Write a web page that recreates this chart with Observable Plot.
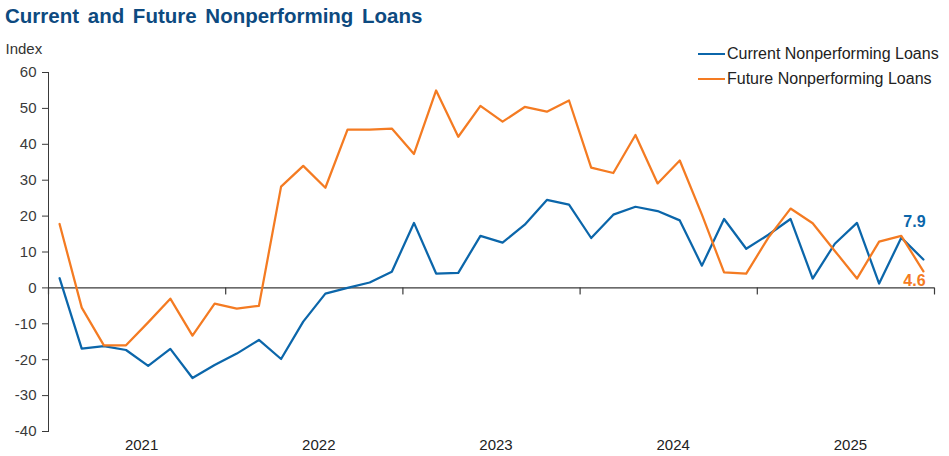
<!DOCTYPE html>
<html><head><meta charset="utf-8">
<script src="https://cdn.jsdelivr.net/npm/d3@7"></script>
<script src="https://cdn.jsdelivr.net/npm/@observablehq/plot@0.6"></script>
<style>
body{margin:0;background:#fff;font-family:"Liberation Sans",Arial,sans-serif;}
#wrap{position:relative;width:949px;height:456px;overflow:hidden;}
#title{position:absolute;left:5px;top:4px;font-weight:bold;font-size:20.5px;color:#0d4a80;word-spacing:3px;white-space:nowrap;}
#chart{position:absolute;left:0;top:40px;}
#legend{position:absolute;left:698px;top:41.5px;font-size:16px;color:#222;}
#legend .item{display:flex;align-items:center;height:25px;white-space:nowrap;}
#legend .sw{display:inline-block;width:27px;height:2.2px;margin-right:2px;}
</style></head>
<body>
<div id="wrap">
  <div id="title">Current and Future Nonperforming Loans</div>
  <div id="chart"></div>
  <div id="legend"></div>
</div>
<script>
// Survey waves: 8 per year
const years = ["2021", "2022", "2023", "2024", "2025"];
const wavesPerYear = 8;

const seriesNames = ["Current Nonperforming Loans", "Future Nonperforming Loans"];
const seriesColors = ["#0b66aa", "#f47b22"];

const currentNPL = [2.7, -16.9, -16.2, -17.3, -21.7, -17.0, -25.1, -21.5, -18.3, -14.5,
  -19.8, -9.4, -1.6, 0.0, 1.5, 4.5, 18.1, 4.0, 4.2, 14.5,
  12.6, 17.6, 24.5, 23.2, 13.9, 20.4, 22.6, 21.4, 18.8, 6.2,
  19.2, 10.9, 14.8, 19.2, 2.6, 12.3, 18.1, 1.2, 14.0, 7.9];
const futureNPL = [17.8, -5.5, -16.0, -16.0, -9.6, -3.0, -13.3, -4.4, -5.8, -5.0,
  28.2, 34.0, 27.9, 44.1, 44.1, 44.4, 37.3, 55.0, 42.1, 50.7,
  46.3, 50.4, 49.1, 52.2, 33.5, 32.0, 42.6, 29.1, 35.5, 20.4,
  4.3, 4.0, 14.0, 22.1, 18.0, 10.3, 2.6, 12.9, 14.5, 4.6];

const yTicks = [-40, -30, -20, -10, 0, 10, 20, 30, 40, 50, 60];
const yDomain = [-40, 60];

// derived tables
const n = currentNPL.length;
const data = [];
currentNPL.forEach((v, i) => data.push({i, value: v, series: seriesNames[0]}));
futureNPL.forEach((v, i) => data.push({i, value: v, series: seriesNames[1]}));
const boundaries = d3.range(0, years.length + 1).map(k => k * wavesPerYear - 0.5);
const mids = years.map((y, k) => k * wavesPerYear + (wavesPerYear - 1) / 2);
const lastCurrent = [{i: n - 1, value: currentNPL[n - 1], series: seriesNames[0]}];
const lastFuture = [{i: n - 1, value: futureNPL[n - 1], series: seriesNames[1]}];

const tickShape = {draw(context, l) { context.moveTo(0, 0); context.lineTo(0, -l); }};
const axisColor = "#3a3a3a";

const chart = Plot.plot({
  width: 949,
  height: 416,
  marginLeft: 48,
  marginRight: 15,
  marginTop: 32,
  marginBottom: 25,
  style: {fontFamily: "'Liberation Sans', Arial, sans-serif", fontSize: "15px", color: axisColor, background: "transparent"},
  x: {domain: [-0.5, n - 0.5], axis: null},
  y: {domain: yDomain, axis: null},
  color: {domain: seriesNames, range: seriesColors},
  marks: [
    Plot.frame({anchor: "left", stroke: axisColor}),
    Plot.axisY({ticks: yTicks, tickSize: 6, tickPadding: 6, fontSize: 15, stroke: axisColor, label: null, tickFormat: d => String(d)}),
    Plot.axisX(mids, {tickSize: 0, tickPadding: 8, dx: 4.5, fontSize: 15, fill: "#222", label: null, tickFormat: d => years[mids.indexOf(d)]}),
    Plot.ruleY([0], {stroke: axisColor, strokeWidth: 1.3}),
    Plot.vector(boundaries, {x: d => d, y: () => 0, length: 6, rotate: 180, anchor: "start", shape: tickShape, stroke: axisColor, strokeWidth: 1.2}),
    Plot.line(data, {x: "i", y: "value", z: "series", stroke: "series", strokeWidth: 2.25}),
    Plot.text(lastCurrent, {x: "i", y: "value", text: d => d.value.toFixed(1), fill: "series", dy: -38, dx: -9, fontWeight: "bold", fontSize: 16}),
    Plot.text(lastFuture, {x: "i", y: "value", text: d => d.value.toFixed(1), fill: "series", dy: 9, dx: -9, fontWeight: "bold", fontSize: 16}),
    Plot.text(["Index"], {frameAnchor: "top-left", text: d => d, dx: -43, dy: -23, textAnchor: "start", lineAnchor: "middle", fontSize: 15, fill: "#333"})
  ]
});
document.getElementById("chart").appendChild(chart);

const legend = document.getElementById("legend");
seriesNames.forEach((name, k) => {
  const item = document.createElement("div");
  item.className = "item";
  const sw = document.createElement("span");
  sw.className = "sw";
  sw.style.background = seriesColors[k];
  item.appendChild(sw);
  item.appendChild(document.createTextNode(name));
  legend.appendChild(item);
});
</script>
</body></html>
